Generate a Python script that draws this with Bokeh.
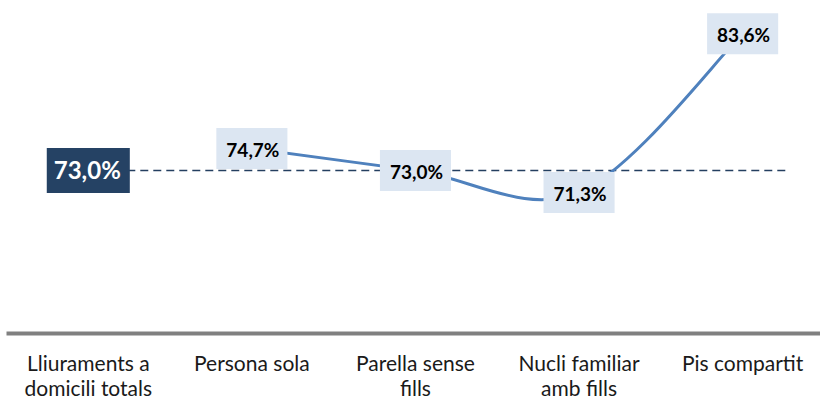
from bokeh.plotting import figure
from bokeh.models import Range1d, FixedTicker, ColumnDataSource
from bokeh.core.properties import value
from bokeh.embed import file_html
from bokeh.resources import INLINE

# ---- data ----
categories = ["Lliuraments a\ndomicili totals", "Persona sola", "Parella sense\nfills",
              "Nucli familiar\namb fills", "Pis compartit"]
total_value = 73.0
series_categories = categories[1:]
series_values = [74.7, 73.0, 71.3, 83.6]

def fmt(v):
    return f"{v:.1f}%".replace(".", ",")

xs = [categories.index(c) for c in series_categories]

# smooth (Catmull-Rom style) cubic bezier segments between the data points
x0, y0, x1, y1, cx0, cy0, cx1, cy1 = [], [], [], [], [], [], [], []
n = len(xs)
for i in range(n - 1):
    xp, yp = (xs[i - 1], series_values[i - 1]) if i > 0 else (xs[i], series_values[i])
    xa, ya = xs[i], series_values[i]
    xb, yb = xs[i + 1], series_values[i + 1]
    xn, yn = (xs[i + 2], series_values[i + 2]) if i + 2 < n else (xb, yb)
    x0.append(xa); y0.append(ya); x1.append(xb); y1.append(yb)
    cx0.append(xa + (xb - xp) / 6); cy0.append(ya + (yb - yp) / 6)
    cx1.append(xb - (xn - xa) / 6); cy1.append(yb - (yn - ya) / 6)

p = figure(frame_width=814, frame_height=333,
           x_range=Range1d(-0.5, len(categories) - 0.524),
           y_range=Range1d(60.36, 86.18), output_backend="svg", toolbar_location=None,
           y_axis_location=None, min_border_left=6, min_border_right=0,
           min_border_top=0, min_border_bottom=0)
p.xgrid.visible = False
p.ygrid.visible = False
p.outline_line_color = None
p.background_fill_color = "white"
p.border_fill_color = "white"

ax = p.xaxis[0]
ax.ticker = FixedTicker(ticks=list(range(len(categories))))
ax.major_label_overrides = {i: c for i, c in enumerate(categories)}
ax.major_tick_line_color = None
ax.minor_tick_line_color = None
ax.axis_line_color = "#808080"
ax.axis_line_width = 4
ax.major_label_text_font = "Lato"
ax.major_label_text_font_size = "21px"
ax.major_label_text_color = "#1a1a1a"
ax.major_label_text_line_height = 1.0
ax.major_label_standoff = 10

# dashed reference line for the total
p.segment(x0=[0], y0=[total_value], x1=[len(categories) - 1 + 0.28], y1=[total_value],
          line_color="#243F60", line_width=1.6, line_dash="8 5")

# smoothed series line
p.bezier(x0=x0, y0=y0, x1=x1, y1=y1, cx0=cx0, cy0=cy0, cx1=cx1, cy1=cy1,
         line_color="#4F81BD", line_width=3)

# series labels
src = ColumnDataSource(dict(x=xs, y=series_values, t=[fmt(v) for v in series_values]))
p.text(x="x", y="y", text="t", source=src, text_font=value("Lato"),
       text_font_size="19px", text_font_style="bold", text_color="black",
       text_align="center", text_baseline="middle",
       background_fill_color="#DCE6F2", padding=[10, 8, 10, 8])

# total label
p.text(x=[0], y=[total_value], text=[fmt(total_value)], text_font=value("Lato"),
       text_font_size="24px", text_font_style="bold", text_color="white",
       text_align="center", text_baseline="middle",
       background_fill_color="#254264", padding=[7, 9, 7, 9])

open("out.html", "w").write(file_html(p, INLINE))
